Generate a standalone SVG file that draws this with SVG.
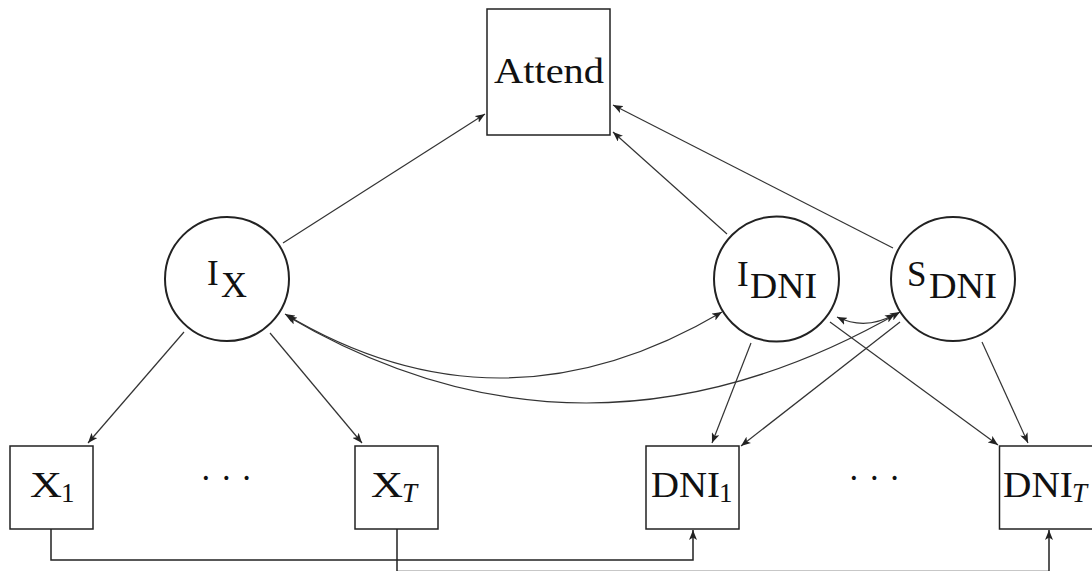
<svg xmlns="http://www.w3.org/2000/svg" width="1092" height="571" viewBox="0 0 1092 571">
<defs>
<style>
.box{fill:#fff;stroke:#222;stroke-width:1.5}
.circ{fill:#fff;stroke:#222;stroke-width:2}
.t{font-family:"Liberation Serif","DejaVu Serif",serif;font-size:35px;fill:#111}
.s{font-family:"Liberation Serif","DejaVu Serif",serif;font-size:27px;fill:#111}
.e{fill:none;stroke:#333;stroke-width:1.2;marker-end:url(#arr)}
.b{fill:none;stroke:#333;stroke-width:1.2;marker-start:url(#arr);marker-end:url(#arr)}
.w{fill:none;stroke:#222;stroke-width:1.5;marker-end:url(#arr)}
</style>
<marker id="arr" viewBox="0 0 10 8" markerWidth="10" markerHeight="8" refX="10" refY="4" orient="auto-start-reverse" markerUnits="userSpaceOnUse">
<path d="M0,0 L10,4 L0,8 L2.5,4 z" fill="#222"/>
</marker>
</defs>
<rect width="1092" height="571" fill="#fff"/>
<g id="connectors">
<path class="e" d="M283,243 L485,114"/>
<path class="e" d="M727,234 L613,132"/>
<path class="e" d="M893,248 L613,105"/>
<path class="e" d="M184,332 L88,443"/>
<path class="e" d="M270,333 L362,443"/>
<path class="e" d="M751,343 L712,443"/>
<path class="e" d="M900,322 L741,446"/>
<path class="e" d="M830,322 L998,445"/>
<path class="e" d="M982,342 L1028,443"/>
<path class="b" d="M285,314 Q500,443 722,312"/>
<path class="b" d="M287,316 Q586,492 900,312"/>
<path class="b" d="M837,317 Q866,331 895,314"/>
<path class="w" d="M51,529 V560 H693 V530"/>
<path class="w" d="M397,529 V571.5 H1049 V530"/>
</g>
<g id="attend">
<rect class="box" x="487" y="9" width="123" height="126"/>
<text class="t" x="494" y="83" textLength="110" lengthAdjust="spacingAndGlyphs">Attend</text>
</g>
<g id="ix">
<circle class="circ" cx="227" cy="279" r="62"/>
<text class="t" x="207" y="285">I</text>
<text class="t" x="221" y="297" textLength="26" lengthAdjust="spacingAndGlyphs">X</text>
</g>
<g id="idni">
<circle class="circ" cx="776.5" cy="279" r="62.5"/>
<text class="t" x="737" y="286">I</text>
<text class="t" x="750" y="298" textLength="67" lengthAdjust="spacingAndGlyphs">DNI</text>
</g>
<g id="sdni">
<circle class="circ" cx="953" cy="279" r="62"/>
<text class="t" x="907" y="286">S</text>
<text class="t" x="929" y="298" textLength="68" lengthAdjust="spacingAndGlyphs">DNI</text>
</g>
<g id="x1">
<rect class="box" x="10" y="446" width="83" height="83"/>
<text class="t" x="30" y="497" textLength="32" lengthAdjust="spacingAndGlyphs">X</text>
<text class="s" x="61" y="502">1</text>
</g>
<g id="dots1">
<text class="t" x="200" y="490">· · ·</text>
</g>
<g id="xt">
<rect class="box" x="355" y="446" width="83" height="83"/>
<text class="t" x="371" y="497" textLength="32" lengthAdjust="spacingAndGlyphs">X</text>
<text class="s" x="402" y="502" font-style="italic">T</text>
</g>
<g id="dni1">
<rect class="box" x="646" y="446" width="93" height="83"/>
<text class="t" x="651" y="497" textLength="69" lengthAdjust="spacingAndGlyphs">DNI</text>
<text class="s" x="719" y="502">1</text>
</g>
<g id="dots2">
<text class="t" x="848" y="490">· · ·</text>
</g>
<g id="dnit">
<rect class="box" x="999.5" y="446" width="100" height="83"/>
<text class="t" x="1003" y="497" textLength="70" lengthAdjust="spacingAndGlyphs">DNI</text>
<text class="s" x="1072" y="502" font-style="italic">T</text>
</g>
</svg>
